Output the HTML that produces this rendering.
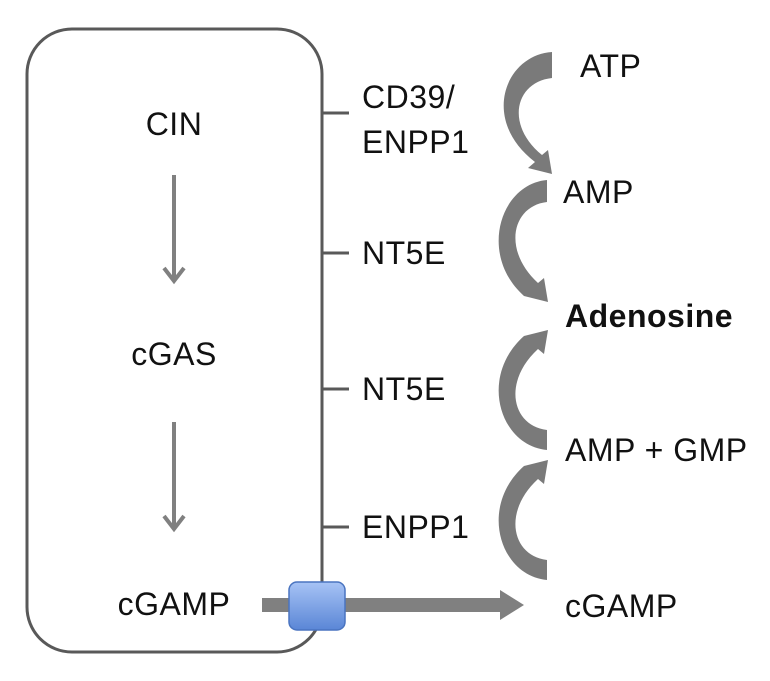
<!DOCTYPE html><html><head><style>
body{margin:0;background:#fff;}
svg text{font-family:"Liberation Sans",sans-serif;font-size:32px;fill:#111;letter-spacing:0.5px;}
</style></head><body>
<svg width="770" height="676" viewBox="0 0 770 676">
<defs><linearGradient id="b" x1="0" y1="0" x2="0" y2="1"><stop offset="0" stop-color="#a7c3f5"/><stop offset="1" stop-color="#5a86d6"/></linearGradient></defs>
<rect x="27" y="29" width="295" height="623" rx="45" fill="none" stroke="#595959" stroke-width="3"/>
<g stroke="#595959" stroke-width="3"><line x1="322" y1="113" x2="349" y2="113"/><line x1="322" y1="253" x2="349" y2="253"/><line x1="322" y1="389" x2="349" y2="389"/><line x1="322" y1="527" x2="349" y2="527"/></g>
<g stroke="#808080" stroke-width="4" fill="none"><line x1="174" y1="175" x2="174" y2="280"/><polyline points="164,268 174,281 184,268"/><line x1="174" y1="422" x2="174" y2="528"/><polyline points="164,516 174,529 184,516"/></g>
<rect x="262" y="598" width="240" height="14" fill="#808080"/>
<polygon points="500,590 524,605 500,620" fill="#808080"/>
<rect x="289" y="582" width="56" height="48" rx="8" fill="url(#b)" stroke="#4a74c0" stroke-width="1.5"/>
<g fill="#7a7a7a">
<path d="M552,52 L552,78 C515,82 505,125 542,155 L548,150 L552,174 L528,168 L535,162 C480,120 505,55 552,52 Z"/>
<path d="M547,180 L547,202 C512,206 502,250 538,283 L544,278 L548,302 L524,296 C478,255 500,184 547,180 Z"/>
<path d="M547,450 L547,430 C512,426 502,382 538,349 L544,354 L548,330 L524,336 C478,377 500,446 547,450 Z"/>
<path d="M547,580 L547,560 C512,556 502,512 538,479 L544,484 L548,460 L524,466 C478,507 500,576 547,580 Z"/>
</g>
<text x="174" y="135" text-anchor="middle">CIN</text>
<text x="174" y="365" text-anchor="middle">cGAS</text>
<text x="174" y="615" text-anchor="middle">cGAMP</text>
<text x="362" y="108">CD39/</text>
<text x="362" y="153">ENPP1</text>
<text x="362" y="264">NT5E</text>
<text x="362" y="400">NT5E</text>
<text x="362" y="538">ENPP1</text>
<text x="580" y="77">ATP</text>
<text x="563" y="203">AMP</text>
<text x="565" y="327" font-weight="bold">Adenosine</text>
<text x="565" y="461">AMP + GMP</text>
<text x="565" y="617">cGAMP</text>
</svg></body></html>
